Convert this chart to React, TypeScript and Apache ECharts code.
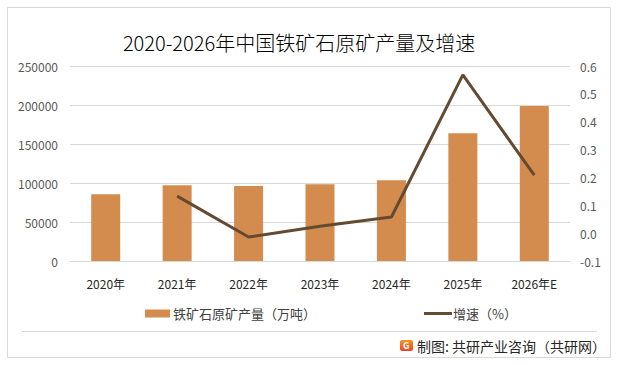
import React, { useEffect, useRef } from "react";
import * as echarts from "echarts";

const categories = ["2020年", "2021年", "2022年", "2023年", "2024年", "2025年", "2026年E"];
const production = [85700, 97200, 96000, 98500, 103600, 163800, 198700];
const growth: (number | null)[] = [null, 0.133, -0.014, 0.025, 0.058, 0.568, 0.208];

const barName = "铁矿石原矿产量（万吨）";
const lineName = "增速（%）";
const titleText = "2020-2026年中国铁矿石原矿产量及增速";
const sourceText = "制图: 共研产业咨询（共研网）";

const FONT = "'Noto Sans CJK SC', 'Noto Sans', sans-serif";

export default function App() {
  const ref = useRef<HTMLDivElement>(null);
  useEffect(() => {
    document.body.style.margin = "0";
    if (!ref.current) return;
    const chart = echarts.init(ref.current, undefined, { renderer: "svg" });
    chart.setOption({
      animation: false,
      backgroundColor: "#ffffff",
      textStyle: { fontFamily: FONT },
      title: {
        text: titleText,
        left: 294,
        top: 27,
        textAlign: "center",
        textStyle: { fontSize: 20, fontWeight: 300, color: "#000000", fontFamily: FONT },
      },
      grid: { left: 70, right: 48, top: 66, bottom: 104, containLabel: false },
      legend: [
        {
          data: [barName],
          left: 140,
          top: 302,
          itemWidth: 25,
          itemHeight: 8,
          itemGap: 3,
          icon: "rect",
          textStyle: { fontSize: 13, color: "#404040", fontFamily: FONT, padding: [0, 0, 0, -2] },
        },
        {
          data: [lineName],
          left: 419,
          top: 302,
          itemWidth: 28,
          itemHeight: 3,
          icon: "rect",
          itemStyle: { color: "#654A32" },
          textStyle: { fontSize: 13, color: "#404040", fontFamily: FONT, padding: [0, 0, 0, -4] },
        },
      ],
      xAxis: {
        type: "category",
        data: categories,
        axisLine: { show: true, lineStyle: { color: "#d9d9d9" } },
        axisTick: { show: false },
        axisLabel: { color: "#262626", fontSize: 12, margin: 16 },
      },
      yAxis: [
        {
          type: "value",
          min: 0,
          max: 250000,
          interval: 50000,
          axisLine: { show: false },
          axisTick: { show: false },
          splitLine: { lineStyle: { color: "#d9d9d9" } },
          axisLabel: { color: "#595959", fontSize: 12, margin: 12, formatter: (v: number) => String(v) },
        },
        {
          type: "value",
          min: -0.1,
          max: 0.6,
          interval: 0.1,
          axisLine: { show: false },
          axisTick: { show: false },
          splitLine: { show: false },
          axisLabel: {
            color: "#595959",
            fontSize: 12,
            margin: 10,
            formatter: (v: number) => v.toFixed(1),
          },
        },
      ],
      series: [
        {
          name: barName,
          type: "bar",
          data: production,
          barWidth: 29,
          itemStyle: { color: "#D48C4E" },
        },
        {
          name: lineName,
          type: "line",
          yAxisIndex: 1,
          data: growth,
          symbol: "none",
          lineStyle: { color: "#654A32", width: 3 },
          itemStyle: { color: "#654A32" },
        },
      ],
      graphic: [
        {
          type: "rect",
          shape: { x: 7.5, y: 7.5, width: 603, height: 350 },
          style: { fill: "none", stroke: "#d9d9d9", lineWidth: 1 },
          silent: true,
          z: -1,
        },
        {
          type: "line",
          shape: { x1: 22, y1: 331.5, x2: 597, y2: 331.5 },
          style: { stroke: "#d9d9d9", lineWidth: 1 },
          silent: true,
        },
        {
          type: "rect",
          shape: { x: 400, y: 340, width: 13, height: 11, r: 2 },
          style: {
            fill: new echarts.graphic.LinearGradient(0, 0, 0, 1, [
              { offset: 0, color: "#F7941D" },
              { offset: 1, color: "#E8452C" },
            ]),
          },
        },
        {
          type: "text",
          x: 403,
          y: 345.5,
          style: { text: "G", fill: "#ffffff", fontSize: 9, fontWeight: "bold", verticalAlign: "middle", fontFamily: FONT },
        },
        {
          type: "text",
          x: 417,
          y: 346,
          style: { text: sourceText, fill: "#262626", fontSize: 14, verticalAlign: "middle", fontFamily: FONT },
        },
      ],
    });
    return () => chart.dispose();
  }, []);
  return <div ref={ref} style={{ width: 618, height: 365 }} />;
}
